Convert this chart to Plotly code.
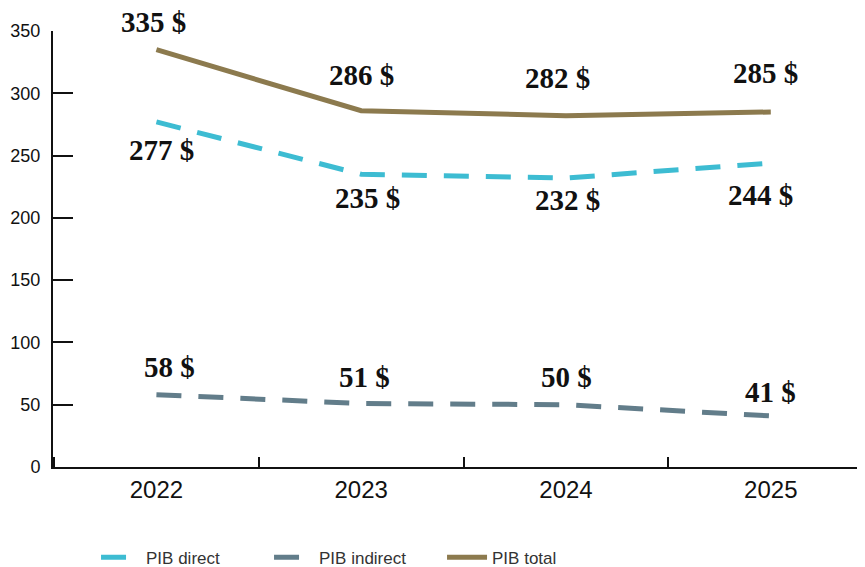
import plotly.graph_objects as go

years = ["2022", "2023", "2024", "2025"]
pib_direct = [277, 235, 232, 244]
pib_indirect = [58, 51, 50, 41]
pib_total = [335, 286, 282, 285]
y_ticks = [0, 50, 100, 150, 200, 250, 300, 350]

fig = go.Figure()
fig.add_trace(go.Scatter(x=years, y=pib_direct, name="PIB direct", mode="lines",
                         line=dict(color="#3DBCD2", width=5, dash="25px,17px")))
fig.add_trace(go.Scatter(x=years, y=pib_indirect, name="PIB indirect", mode="lines",
                         line=dict(color="#627D8A", width=5, dash="25px,17px")))
fig.add_trace(go.Scatter(x=years, y=pib_total, name="PIB total", mode="lines",
                         line=dict(color="#8C7A4E", width=5)))

lab_font = dict(family="Liberation Serif, Times New Roman, serif", size=29, color="#111",
                weight="bold")
shifts_total = [(-3, 28), (0, 36), (-9, 38), (-5, 39)]
shifts_direct = [(5, -28), (6, -24), (1, -22), (-10, -32)]
shifts_ind = [(13, 28), (3, 26), (0, 28), (0, 24)]
for i, yr in enumerate(years):
    for vals, sh in ((pib_total, shifts_total), (pib_direct, shifts_direct), (pib_indirect, shifts_ind)):
        fig.add_annotation(x=i, y=vals[i], xref="x", yref="y", text=f"{vals[i]} $",
                           showarrow=False, xshift=sh[i][0], yshift=sh[i][1], font=lab_font)

fig.update_layout(
    width=857, height=559,
    margin=dict(l=45, r=0, t=23, b=100, autoexpand=False),
    plot_bgcolor="white", paper_bgcolor="white",
    showlegend=True,
    legend=dict(orientation="h", x=0.053, y=-0.167, xanchor="left", yanchor="top",
                font=dict(family="Liberation Sans, Arial, sans-serif", size=17, color="#333"),
                entrywidth=118, entrywidthmode="pixels", itemwidth=40),
    font=dict(family="Liberation Sans, Arial, sans-serif", color="#111"),
)
fig.update_xaxes(type="category", range=[-0.505, 3.46], showgrid=False,
                 showline=True, linecolor="#111", linewidth=2,
                 ticks="inside", ticklen=10, tickcolor="#111", tickwidth=1.5,
                 tickson="boundaries", tickfont=dict(size=24, color="#111"))
fig.update_yaxes(range=[0, 350], tickvals=y_ticks, showgrid=False, zeroline=False,
                 showline=True, linecolor="#111", linewidth=2,
                 ticks="inside", ticklen=20, tickcolor="#111", tickwidth=2,
                 tickfont=dict(size=18, color="#111"), ticklabelstandoff=7)

fig.write_html("out.html")
